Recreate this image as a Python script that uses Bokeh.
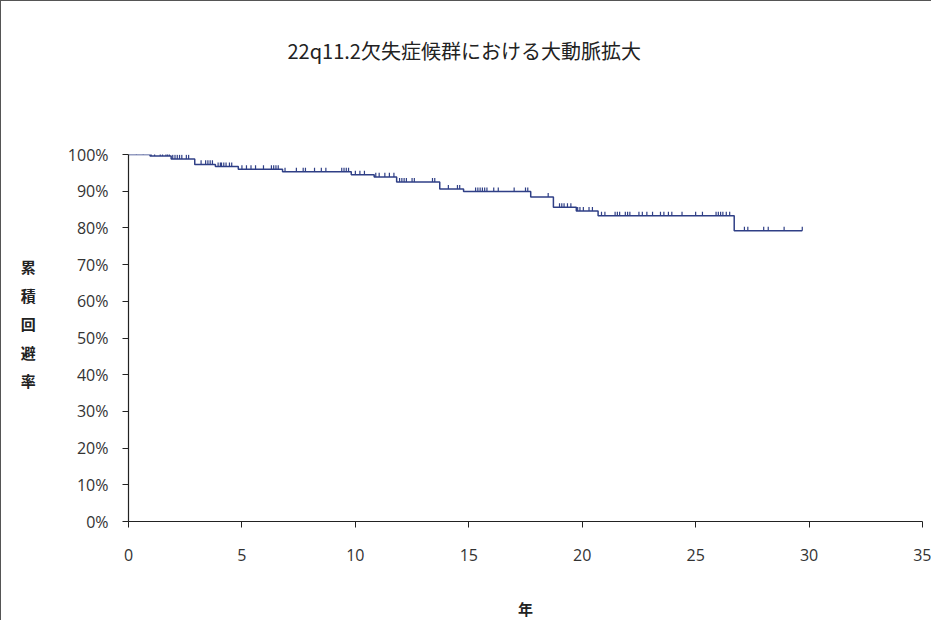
import numpy as np
from bokeh.plotting import figure
from bokeh.models import NumeralTickFormatter, FixedTicker, Range1d, Title
from bokeh.embed import file_html
from bokeh.resources import INLINE

title_text = "22q11.2欠失症候群における大動脈拡大"
y_label_chars = ["累", "積", "回", "避", "率"]
x_label_text = "年"

# Kaplan-Meier step data (years, cumulative freedom)
event_times = [0.95, 1.88, 2.92, 3.83, 4.84, 6.79, 9.82, 10.83, 11.82, 13.72,
               14.77, 17.73, 18.73, 19.74, 20.7, 26.7]
survival = [0.996, 0.988, 0.973, 0.967, 0.960, 0.953, 0.945, 0.939, 0.925, 0.906,
            0.899, 0.884, 0.856, 0.846, 0.833, 0.792]
end_time = 29.7

# censored observations (years)
censor_times = [0.35, 0.65, 1.0, 1.15, 1.4, 1.5, 1.65, 1.72, 1.8,
                1.95, 2.05, 2.15, 2.25, 2.35, 2.55, 2.65,
                3.2, 3.4, 3.5, 3.6, 3.7,
                3.95, 4.05, 4.1, 4.2, 4.3, 4.45, 4.55,
                5.0, 5.2, 5.4, 5.6, 5.95, 6.3, 6.4, 6.5, 6.6,
                6.9, 7.4, 7.7, 7.8, 8.2, 8.5, 8.7, 9.4, 9.5, 9.6, 9.7,
                10.0, 10.2, 10.4, 10.9, 11.05, 11.3, 11.5, 11.7,
                11.95, 12.05, 12.15, 12.25, 12.5, 12.6, 13.4, 13.5,
                14.1, 14.5, 14.6,
                15.3, 15.4, 15.5, 15.6, 15.7, 15.8, 16.1, 16.3, 17.0, 17.5, 17.6,
                18.5, 19.0, 19.1, 19.2, 19.35, 19.5,
                19.8, 19.9, 20.05, 20.3, 20.45,
                20.85, 21.0, 21.45, 21.55, 21.65, 21.9, 22.0, 22.1, 22.5, 22.65,
                22.85, 23.1, 23.45, 23.6, 23.8, 23.95, 24.4, 25.0, 25.3,
                25.9, 26.0, 26.1, 26.2, 26.35, 26.5,
                27.15, 27.3, 28.0, 28.2, 28.9, 29.7]

x_ticks = [0, 5, 10, 15, 20, 25, 30, 35]
y_ticks = [0, 0.1, 0.2, 0.3, 0.4, 0.5, 0.6, 0.7, 0.8, 0.9, 1.0]

LINE = "#2f3f86"
AX = "#222222"
TXT = "#333333"
FONT = "Open Sans"
JFONT = "Noto Sans CJK JP"

p = figure(width=931, height=620, output_backend="svg", toolbar_location=None,
           title=None,
           x_range=Range1d(0, 35), y_range=Range1d(0, 1),
           min_border_left=127, min_border_right=10, min_border_top=153,
           min_border_bottom=99)
p.styles = {"border-left": "1px solid #555", "border-top": "1px solid #555"}
p.outline_line_color = None
p.grid.visible = False
p.background_fill_color = "white"
p.border_fill_color = "white"

# spacer title (closest to the frame), then the real title above it
p.add_layout(Title(text=" ", text_font_size="1px", standoff=82), "above")
p.add_layout(Title(text=title_text, align="left", offset=159,
                   text_font=JFONT, text_font_style="normal",
                   text_font_size="20px", text_color="#222222"), "above")

# step curve
xs = [0] + event_times + [end_time]
ys = [1.0] + survival + [survival[-1]]
p.step(xs, ys, mode="after", line_color=LINE, line_width=1.5)

# censor marks
et = np.array(event_times)
sv = np.array([1.0] + survival)
ct = np.array(censor_times)
cy = sv[np.searchsorted(et, ct, side="right")]
p.segment(x0=ct, y0=cy, x1=ct, y1=cy + 0.011, line_color=LINE, line_width=1.2)

# axes
for ax in (p.xaxis[0], p.yaxis[0]):
    ax.axis_line_color = AX
    ax.axis_line_width = 1.2
    ax.major_tick_line_color = AX
    ax.major_tick_in = 0
    ax.major_tick_out = 6
    ax.minor_tick_line_color = None
    ax.major_label_text_font = FONT
    ax.major_label_text_font_size = "16px"
    ax.major_label_text_color = TXT

p.xaxis.ticker = FixedTicker(ticks=x_ticks)
p.xaxis.major_label_standoff = 21
p.xaxis.axis_label = x_label_text
p.xaxis.axis_label_text_font = JFONT
p.xaxis.axis_label_text_font_style = "bold"
p.xaxis.axis_label_text_font_size = "15px"
p.xaxis.axis_label_text_color = "#222222"
p.xaxis.axis_label_standoff = 34

p.yaxis.ticker = FixedTicker(ticks=y_ticks)
p.yaxis.formatter = NumeralTickFormatter(format="0%")
p.yaxis.major_label_standoff = 14
p.yaxis.axis_label = "\n".join(y_label_chars) + "\n "
p.yaxis.axis_label_orientation = "horizontal"
p.yaxis.axis_label_text_font = JFONT
p.yaxis.axis_label_text_font_style = "bold"
p.yaxis.axis_label_text_font_size = "15px"
p.yaxis.axis_label_text_line_height = 1.355
p.yaxis.axis_label_text_color = "#222222"
p.yaxis.axis_label_standoff = 29

open("out.html", "w").write(file_html(p, INLINE))
